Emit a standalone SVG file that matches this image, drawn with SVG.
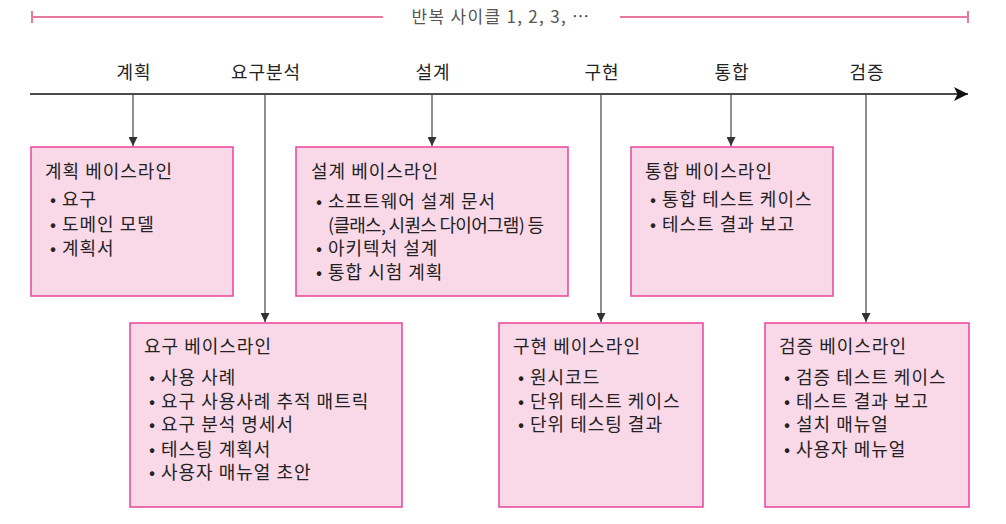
<svg xmlns="http://www.w3.org/2000/svg" width="1006" height="524" viewBox="0 0 1006 524">
<defs>
<marker id="ah" viewBox="0 0 10 10" refX="10" refY="5" markerWidth="9" markerHeight="9" markerUnits="userSpaceOnUse" orient="auto">
<path d="M0,0 L10,5 L0,10 Z" fill="#333"/>
</marker>
<marker id="axh" viewBox="0 0 12 12" refX="12" refY="6" markerWidth="14" markerHeight="14" markerUnits="userSpaceOnUse" orient="auto">
<path d="M0,0 L12,6 L0,12 L3,6 Z" fill="#111"/>
</marker>
</defs>
<style>
text{font-family:"Noto Sans CJK KR","Noto Sans",sans-serif;fill:#222}
.lbl{font-size:18px;text-anchor:middle;letter-spacing:1px}
.ttl{font-size:18px;letter-spacing:1px}
.it{font-size:18px;letter-spacing:1px}
.bl{font-size:18px;text-anchor:middle}
.box{fill:#F9D8E8;stroke:#E8449A;stroke-width:1.5}
.conn{stroke:#444;stroke-width:1.2;fill:none}
.cyc{stroke:#E8789E;stroke-width:2;fill:none}
</style>
<rect width="1006" height="524" fill="#fff"/>
<g id="cycle">
<line class="cyc" x1="32" y1="17" x2="383" y2="17"/>
<line class="cyc" x1="620" y1="17" x2="968" y2="17"/>
<line class="cyc" x1="32" y1="11" x2="32" y2="23"/>
<line class="cyc" x1="968" y1="11" x2="968" y2="23"/>
<text x="501" y="23" style="font-size:17px;fill:#555;text-anchor:middle;letter-spacing:1.3px">반복 사이클 1, 2, 3, …</text>
</g>
<g id="axis">
<line x1="30" y1="94" x2="968" y2="94" stroke="#111" stroke-width="1.3" marker-end="url(#axh)"/>
<text class="lbl" x="134" y="79">계획</text>
<text class="lbl" x="266" y="79">요구분석</text>
<text class="lbl" x="433" y="79">설계</text>
<text class="lbl" x="602" y="79">구현</text>
<text class="lbl" x="732" y="79">통합</text>
<text class="lbl" x="867" y="79">검증</text>
</g>
<g id="connectors">
<line class="conn" x1="133" y1="94" x2="133" y2="146" marker-end="url(#ah)"/>
<line class="conn" x1="265" y1="94" x2="265" y2="322" marker-end="url(#ah)"/>
<line class="conn" x1="432" y1="94" x2="432" y2="146" marker-end="url(#ah)"/>
<line class="conn" x1="601" y1="94" x2="601" y2="322" marker-end="url(#ah)"/>
<line class="conn" x1="731" y1="94" x2="731" y2="146" marker-end="url(#ah)"/>
<line class="conn" x1="866" y1="94" x2="866" y2="322" marker-end="url(#ah)"/>
</g>
<g id="plan">
<rect class="box" x="31" y="147" width="202" height="149"/>
<text class="ttl" x="45" y="178">계획 베이스라인</text>
<text class="bl" x="53" y="206">•</text><text class="it" x="62" y="206">요구</text>
<text class="bl" x="53" y="231">•</text><text class="it" x="62" y="231">도메인 모델</text>
<text class="bl" x="53" y="255">•</text><text class="it" x="62" y="255">계획서</text>
</g>
<g id="design">
<rect class="box" x="296" y="147" width="272" height="149"/>
<text class="ttl" x="311" y="178">설계 베이스라인</text>
<text class="bl" x="319" y="208">•</text><text class="it" x="328" y="208">소프트웨어 설계 문서</text>
<text class="it" x="328" y="231.5" textLength="216" lengthAdjust="spacing" style="letter-spacing:0">(클래스, 시퀀스 다이어그램) 등</text>
<text class="bl" x="319" y="255">•</text><text class="it" x="328" y="255">아키텍처 설계</text>
<text class="bl" x="319" y="278.5">•</text><text class="it" x="328" y="278.5">통합 시험 계획</text>
</g>
<g id="integration">
<rect class="box" x="631" y="147" width="202" height="149"/>
<text class="ttl" x="645" y="178">통합 베이스라인</text>
<text class="bl" x="653" y="206">•</text><text class="it" x="662" y="206">통합 테스트 케이스</text>
<text class="bl" x="653" y="231">•</text><text class="it" x="662" y="231">테스트 결과 보고</text>
</g>
<g id="requirements">
<rect class="box" x="130" y="323" width="272" height="184"/>
<text class="ttl" x="144" y="353">요구 베이스라인</text>
<text class="bl" x="152" y="384">•</text><text class="it" x="161" y="384">사용 사례</text>
<text class="bl" x="152" y="407.5">•</text><text class="it" x="161" y="407.5">요구 사용사례 추적 매트릭</text>
<text class="bl" x="152" y="431">•</text><text class="it" x="161" y="431">요구 분석 명세서</text>
<text class="bl" x="152" y="455.5">•</text><text class="it" x="161" y="455.5">테스팅 계획서</text>
<text class="bl" x="152" y="479">•</text><text class="it" x="161" y="479">사용자 매뉴얼 초안</text>
</g>
<g id="implementation">
<rect class="box" x="499" y="323" width="204" height="184"/>
<text class="ttl" x="513" y="353">구현 베이스라인</text>
<text class="bl" x="521" y="384">•</text><text class="it" x="530" y="384">원시코드</text>
<text class="bl" x="521" y="407.5">•</text><text class="it" x="530" y="407.5">단위 테스트 케이스</text>
<text class="bl" x="521" y="431">•</text><text class="it" x="530" y="431">단위 테스팅 결과</text>
</g>
<g id="verification">
<rect class="box" x="765" y="323" width="204" height="184"/>
<text class="ttl" x="779" y="353">검증 베이스라인</text>
<text class="bl" x="787" y="384">•</text><text class="it" x="796" y="384">검증 테스트 케이스</text>
<text class="bl" x="787" y="407.5">•</text><text class="it" x="796" y="407.5">테스트 결과 보고</text>
<text class="bl" x="787" y="431">•</text><text class="it" x="796" y="431">설치 매뉴얼</text>
<text class="bl" x="787" y="455.5">•</text><text class="it" x="796" y="455.5">사용자 메뉴얼</text>
</g>
</svg>
